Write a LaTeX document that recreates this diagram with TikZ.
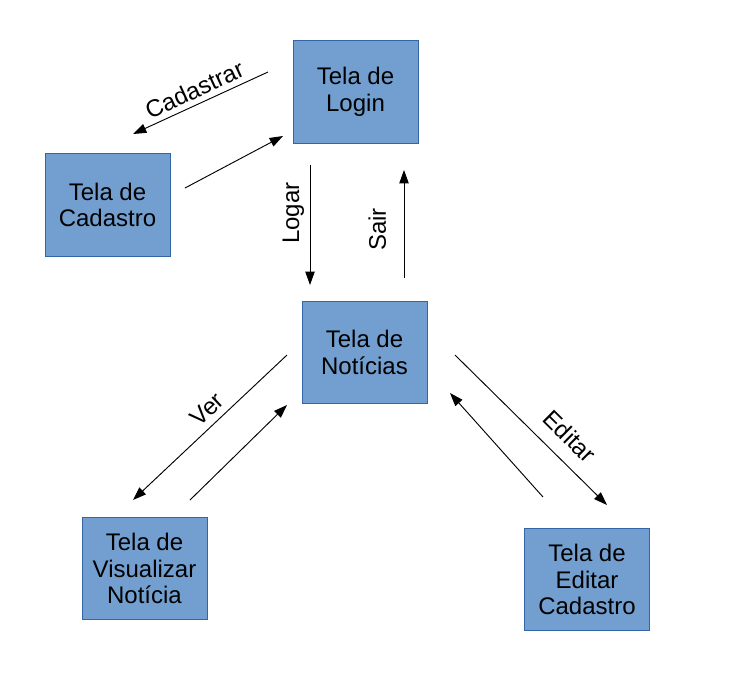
\documentclass[tikz,border=0pt]{standalone}
\usepackage{fontspec}
\setmainfont{Liberation Sans}
\usepackage{tikz}
\usetikzlibrary{calc}
\usetikzlibrary{arrows.meta}
\definecolor{azul}{HTML}{729FCF}
\definecolor{borda}{HTML}{3465A4}
\tikzstyle{tela}=[rectangle, draw=borda, fill=azul, line width=0.6pt, minimum width=93.75pt,
                  minimum height=77pt, align=center, inner sep=2pt, font=\fontsize{18}{20}\selectfont]
\tikzstyle{seta}=[-{Triangle[length=10pt,width=7pt]}, line width=0.7pt]
\tikzstyle{rot}=[font=\fontsize{18}{20}\selectfont, inner sep=4pt]

\begin{document}
\begin{tikzpicture}[x=0.75pt,y=0.75pt]
\useasboundingbox (0,0) rectangle (746,-697);
\node[tela] (login) at (355.5,-92) {Tela de\\Login};
\node[tela] (cadastro) at (107.5,-205) {Tela de\\Cadastro};
\node[tela] (noticias) at (364.5,-352.5) {Tela de\\Notícias};
\node[tela] (visualizar) at (144.5,-568.5) {Tela de\\Visualizar\\Notícia};
\node[tela] (editar) at (587,-579.5) {Tela de\\Editar\\Cadastro};
\coordinate (P1) at (268,-72);
\coordinate (P2) at (133,-134);
\coordinate (P3) at (185,-188);
\coordinate (P4) at (283,-136);
\coordinate (P5) at (310,-165);
\coordinate (P6) at (310,-285);
\coordinate (P7) at (404,-278);
\coordinate (P8) at (404,-170);
\coordinate (P9) at (287,-355);
\coordinate (P10) at (133,-500);
\coordinate (P11) at (190,-500);
\coordinate (P12) at (287,-405);
\coordinate (P13) at (455,-355);
\coordinate (P14) at (607,-505);
\coordinate (P15) at (543,-497);
\coordinate (P16) at (450,-393);
\draw[seta] (P1) -- node[rot, midway, above, sloped] {Cadastrar} (P2);
\draw[seta] (P3) -- (P4);
\draw[seta] (P5) -- node[rot, pos=0.4, above, rotate=90] {Logar} (P6);
\draw[seta] (P7) -- node[rot, pos=0.45, above=9pt, sloped] {Sair} (P8);
\draw[seta] (P9) -- node[rot, pos=0.45, above=1pt, sloped] {Ver} (P10);
\draw[seta] (P11) -- (P12);
\draw[seta] (P13) -- node[rot, pos=0.65, above=6pt, sloped] {Editar} (P14);
\draw[seta] (P15) -- (P16);
\end{tikzpicture}
\end{document}
